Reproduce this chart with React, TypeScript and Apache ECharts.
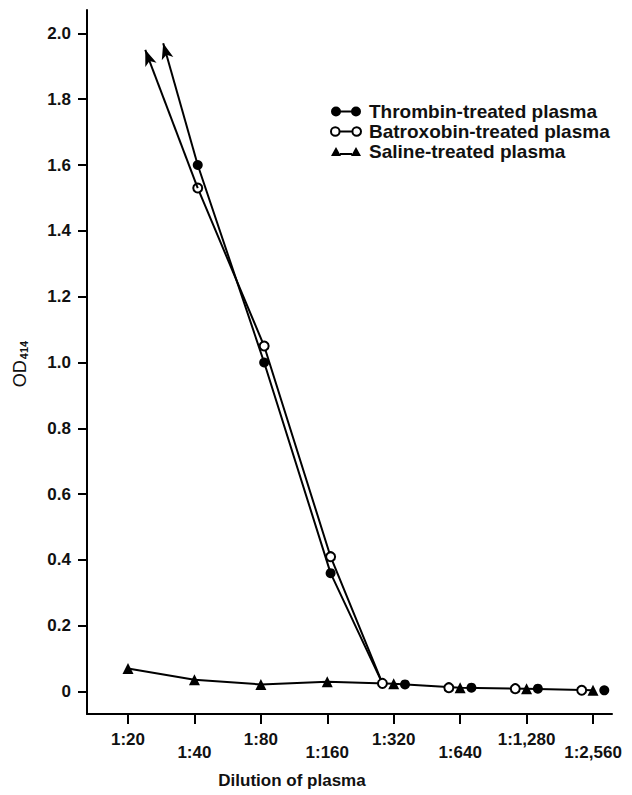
import React, { useEffect, useRef } from "react";
import * as echarts from "echarts";

// ---- data ----
const dilutions = ["1:20", "1:40", "1:80", "1:160", "1:320", "1:640", "1:1,280", "1:2,560"];
const thrombinOD = [null, 1.6, 1.0, 0.36, 0.022, 0.012, 0.009, 0.004];
const batroxobinOD = [null, 1.53, 1.05, 0.41, 0.025, 0.012, 0.009, 0.004];
const salineOD = [0.07, 0.036, 0.022, 0.03, 0.024, 0.012, 0.009, 0.004];
// arrow tips (off-scale continuation towards 1:20), [x index, OD]
const thrombinArrowTip = [0.53, 1.97];
const batroxobinArrowTip = [0.26, 1.95];
const yTickValues = [0, 0.2, 0.4, 0.6, 0.8, 1.0, 1.2, 1.4, 1.6, 1.8, 2.0];

const seriesNames = ["Thrombin-treated plasma", "Batroxobin-treated plasma", "Saline-treated plasma"];

// ---- layout / style constants ----
const FONT = "Liberation Sans";
const UPPER_SHIFT = 0.05; // slight horizontal shift of upper markers
const CLUSTER_SHIFT = 0.17; // markers side by side at low dilutions
const FIRST_LOW = 4; // first index where the three series overlap

export default function App() {
  const ref = useRef<HTMLDivElement>(null);

  useEffect(() => {
    if (!ref.current) return;
    const chart = echarts.init(ref.current, undefined, { renderer: "svg" });

    const idx = dilutions.map((_, i) => i);
    const upper = (arr: (number | null)[]) =>
      idx.filter((i) => i > 0 && i < FIRST_LOW).map((i) => [i + UPPER_SHIFT, arr[i] as number]);
    const lowPts = (arr: (number | null)[], shift: number) =>
      idx.filter((i) => i >= FIRST_LOW).map((i) => [i + shift, arr[i] as number]);

    const convergeEnd = [FIRST_LOW - CLUSTER_SHIFT, batroxobinOD[FIRST_LOW] as number];

    const black = "#000";
    const lineStyle = { color: black, width: 2 };

    const arrowMark = (tip: number[], first: number[]) => ({
      silent: true,
      symbol: ["arrow", "none"],
      symbolSize: [9, 16],
      label: { show: false },
      emphasis: { disabled: true },
      lineStyle: { color: black, width: 2, type: "solid" },
      data: [[{ coord: tip }, { coord: first }]],
    });

    const thrombinUpper = upper(thrombinOD);
    const batroxobinUpper = upper(batroxobinOD);

    const tickFont = { fontFamily: FONT, fontSize: 17, fontWeight: "bold" as const, color: "#111" };

    const option: any = {
      animation: false,
      backgroundColor: "#fff",
      textStyle: { fontFamily: FONT },
      grid: { left: 87, right: 20, top: 10, bottom: 81 },
      legend: {
        orient: "vertical",
        left: 325,
        top: 97,
        itemWidth: 30,
        itemHeight: 10,
        itemGap: 1,
        selectedMode: false,
        textStyle: { fontFamily: FONT, fontSize: 19, fontWeight: "bold", color: "#111", padding: [0, 0, 0, 3] },
        data: [
          {
            name: seriesNames[0],
            icon: "path://M0,5a5,5 0 1,1 10,0a5,5 0 1,1 -10,0zM9,4h12v2h-12zM20,5a5,5 0 1,1 10,0a5,5 0 1,1 -10,0z",
            itemStyle: { color: "#000", borderWidth: 0, opacity: 1 },
          },
          {
            name: seriesNames[1],
            icon: "path://M1,5a4,4 0 1,1 8,0a4,4 0 1,1 -8,0zM9,5L21,5M21,5a4,4 0 1,1 8,0a4,4 0 1,1 -8,0z",
            itemStyle: { color: "#fff", borderColor: "#000", borderWidth: 2, opacity: 1 },
          },
          {
            name: seriesNames[2],
            icon: "path://M0,10L5,1L10,10zM9,7h12v2h-12zM20,10L25,1L30,10z",
            itemStyle: { color: "#000", borderWidth: 0, opacity: 1 },
          },
        ],
      },
      xAxis: {
        type: "value",
        min: -0.617,
        max: 7.286,
        splitLine: { show: false },
        axisLine: { onZero: false, lineStyle: { color: black, width: 2 } },
        axisTick: { customValues: idx, length: 10, lineStyle: { color: black, width: 2 } },
        axisLabel: {
          customValues: idx,
          margin: 17,
          formatter: (v: number) => {
            const i = Math.round(v);
            return i % 2 === 0 ? `{hi|${dilutions[i]}}` : `{lo|${dilutions[i]}}`;
          },
          rich: {
            hi: { ...tickFont },
            lo: { ...tickFont, padding: [13, 0, 0, 0] },
          },
        },
      },
      yAxis: {
        type: "value",
        min: -0.068,
        max: 2.071,
        splitLine: { show: false },
        axisLine: { onZero: false, lineStyle: { color: black, width: 2 } },
        axisTick: { customValues: yTickValues, length: 9, lineStyle: { color: black, width: 2 } },
        axisLabel: {
          customValues: yTickValues,
          margin: 16,
          ...tickFont,
          formatter: (v: number) => (Math.abs(v) < 1e-9 ? "0" : v.toFixed(1)),
        },
      },
      graphic: [
        {
          type: "text",
          x: 292,
          y: 780,
          style: {
            text: "Dilution of plasma",
            fontFamily: FONT,
            fontSize: 17,
            fontWeight: "bold",
            fill: "#111",
            align: "center",
            verticalAlign: "middle",
          },
        },
        {
          type: "text",
          x: 20,
          y: 364,
          rotation: Math.PI / 2,
          style: {
            text: "{m|OD}{s|414}",
            align: "center",
            verticalAlign: "middle",
            fill: "#111",
            rich: {
              m: { fontFamily: FONT, fontSize: 18, fill: "#111" },
              s: { fontFamily: FONT, fontSize: 11, fontWeight: "bold", fill: "#111", verticalAlign: "bottom", padding: [0, 0, 0, 1] },
            },
          },
        },
      ],
      series: [
        {
          type: "line",
          name: seriesNames[2],
          z: 2,
          data: idx.map((i) => [i, salineOD[i]]),
          symbol: "triangle",
          symbolSize: 11,
          itemStyle: { color: black, opacity: 1 },
          lineStyle,
          emphasis: { disabled: true },
        },
        {
          type: "line",
          name: seriesNames[0],
          z: 3,
          data: [...thrombinUpper, { value: convergeEnd, symbol: "none" }],
          symbol: "circle",
          symbolSize: 10,
          itemStyle: { color: black, opacity: 1 },
          lineStyle,
          emphasis: { disabled: true },
          markLine: arrowMark(thrombinArrowTip, thrombinUpper[0]),
        },
        {
          type: "line",
          name: seriesNames[1],
          z: 3,
          data: [...batroxobinUpper, { value: convergeEnd, symbol: "none" }],
          symbol: "circle",
          symbolSize: 9,
          itemStyle: { color: "#fff", borderColor: black, borderWidth: 2, opacity: 1 },
          lineStyle,
          emphasis: { disabled: true },
          markLine: arrowMark(batroxobinArrowTip, batroxobinUpper[0]),
        },
        {
          type: "scatter",
          name: seriesNames[0],
          z: 4,
          data: lowPts(thrombinOD, CLUSTER_SHIFT),
          symbol: "circle",
          symbolSize: 10,
          itemStyle: { color: black, opacity: 1 },
          emphasis: { disabled: true },
        },
        {
          type: "scatter",
          name: seriesNames[1],
          z: 4,
          data: lowPts(batroxobinOD, -CLUSTER_SHIFT),
          symbol: "circle",
          symbolSize: 9,
          itemStyle: { color: "#fff", borderColor: black, borderWidth: 2, opacity: 1 },
          emphasis: { disabled: true },
        },
      ],
    };

    chart.setOption(option);
    return () => chart.dispose();
  }, []);

  return (
    <div
      ref={ref}
      style={{ position: "fixed", left: 0, top: 0, width: 632, height: 795, background: "#fff" }}
    />
  );
}
